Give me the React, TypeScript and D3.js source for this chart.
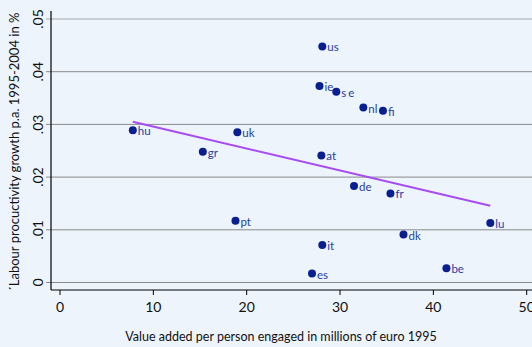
import React from "react";
import * as d3 from "d3";

const countries = ["hu", "gr", "uk", "pt", "us", "ie", "se", "nl", "fi", "at", "de", "fr", "lu", "dk", "it", "es", "be"];
const valueAdded = [7.8, 15.3, 19.0, 18.8, 28.1, 27.8, 29.6, 32.5, 34.6, 28.0, 31.5, 35.4, 46.1, 36.8, 28.1, 27.0, 41.4];
const growth = [0.0289, 0.0248, 0.0285, 0.0117, 0.0448, 0.0373, 0.0362, 0.0332, 0.0326, 0.0241, 0.0183, 0.0169, 0.0113, 0.0091, 0.0071, 0.0017, 0.0027];
const fitX = [7.8, 46.1];
const fitY = [0.0305, 0.01457];
const xTicks = [0, 10, 20, 30, 40, 50];
const yTicks = [0, 0.01, 0.02, 0.03, 0.04, 0.05];
const yTickLabels = ["0", ".01", ".02", ".03", ".04", ".05"];

const W = 532;
const H = 347;
const FONT = "Lato, 'Open Sans', sans-serif";

export default function App() {
  const x = d3.scaleLinear().domain([0, 50]).range([60, 526.7]);
  const y = d3.scaleLinear().domain([0, 0.05]).range([282.5, 19]);
  const line = d3.line<number>().x((d, i) => x(fitX[i])).y((d, i) => y(fitY[i]));
  const axisLeft = 51;
  const axisBottom = 290;
  return (
    <svg width={W} height={H} style={{ position: "fixed", left: 0, top: 0, display: "block" }}>
      <rect x={0} y={0} width={W} height={H} fill="#edf4fc" />
      {yTicks.map((t, i) => (
        <g key={"y" + i}>
          <line x1={axisLeft - 5} x2={W} y1={y(t)} y2={y(t)} stroke={i === yTicks.length - 1 ? "#a8a8a8" : "#8a8a8a"} strokeWidth={1} />
          <text
            transform={`translate(${42.5},${y(t)}) rotate(-90)`}
            textAnchor="middle"
            fontFamily={FONT}
            fontSize={14}
            fill="#111"
          >
            {yTickLabels[i]}
          </text>
        </g>
      ))}
      <line x1={axisLeft} x2={axisLeft} y1={11} y2={axisBottom} stroke="#000" strokeWidth={1.2} />
      <line x1={axisLeft} x2={W} y1={axisBottom} y2={axisBottom} stroke="#000" strokeWidth={1.2} />
      {xTicks.map((t, i) => (
        <g key={"x" + i}>
          <line x1={x(t)} x2={x(t)} y1={axisBottom} y2={axisBottom + 5} stroke="#000" strokeWidth={1} />
          <text x={x(t)} y={312} textAnchor="middle" fontFamily={FONT} fontSize={14} fill="#111">
            {t}
          </text>
        </g>
      ))}
      <text x={281} y={341} textAnchor="middle" fontFamily={FONT} fontSize={12.5} fill="#111">
        Value added per person engaged in millions of euro 1995
      </text>
      <text
        transform={`translate(19,152) rotate(-90)`}
        textAnchor="middle"
        fontFamily={FONT}
        fontSize={13}
        fill="#111"
      >
        ´Labour procuctivity growth p.a. 1995-2004 in %
      </text>
      <path d={line(fitX) || ""} fill="none" stroke="#a64cf2" strokeWidth={2} />
      {countries.map((c, i) => (
        <g key={c}>
          <circle cx={x(valueAdded[i])} cy={y(growth[i])} r={4} fill="#0a1f8f" />
          <text
            x={x(valueAdded[i]) + 5}
            y={y(growth[i]) + 5}
            fontFamily={FONT}
            fontSize={11.5}
            fill="#2540a0"
            letterSpacing={c === "se" ? 2 : 0}
          >
            {c}
          </text>
        </g>
      ))}
    </svg>
  );
}
